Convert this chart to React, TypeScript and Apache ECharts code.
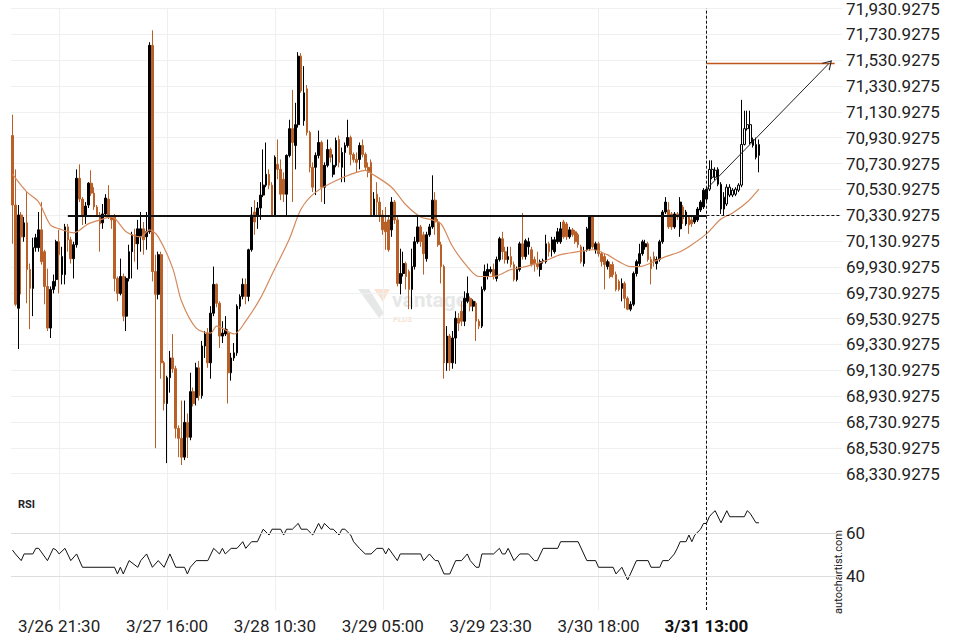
import React, { useEffect, useRef } from "react";
import * as echarts from "echarts";

// ---- time axis ----
const START_DAY = 26; // 3/26
const START_MINUTES = 13 * 60 + 30; // 13:30
const STEP_MINUTES = 30;
const CATEGORY_COUNT = 285;
const tickIndices = [16, 53, 90, 127, 164, 201, 238];
const tickLabels = ["3/26 21:30", "3/27 16:00", "3/28 10:30", "3/29 05:00", "3/29 23:30", "3/30 18:00", "3/31 13:00"];
const BOLD_TICK = "3/31 13:00";

// ---- price axis ----
const PRICE_MIN = 68330.9275;
const PRICE_MAX = 71930.9275;
const PRICE_STEP = 200;
const SUPPORT_LEVEL = 70330.9275;
const TARGET_LEVEL = 71505;
const ARROW_START = 70533;
const PATTERN_INDEX = 238;
const HOLLOW_FROM = 239;

// ---- candles: [open, close, low, high] ----
const ohlc: [number, number, number, number][] = [
  [70948, 70410, 70110, 71109], [70410, 69642, 69627, 70686], [69611, 70333, 69296, 70410], [70333, 70164, 69719, 70356],
  [70164, 70272, 70126, 70318], [70272, 69911, 69650, 70510], [69911, 69765, 69450, 69957], [69765, 70080, 69550, 70157],
  [70080, 70157, 70049, 70187], [70080, 70218, 70049, 70356], [70218, 69972, 69949, 70433], [70049, 69780, 69642, 70064],
  [69780, 69458, 69435, 69918], [69458, 69757, 69381, 69780], [69757, 69819, 69726, 69872], [69834, 70126, 69780, 70141],
  [70126, 70026, 69726, 70218], [69872, 70011, 69796, 70087], [69872, 70241, 69796, 70264], [70241, 70141, 70049, 70264],
  [70141, 69995, 69957, 70164], [69995, 70103, 69842, 70126], [70103, 70617, 70080, 70686], [70617, 70456, 70433, 70725],
  [70456, 70333, 70256, 70471], [70333, 70402, 70264, 70433], [70410, 70579, 70387, 70587], [70579, 70502, 70479, 70679],
  [70502, 70395, 70372, 70548], [70395, 70333, 70318, 70410], [70333, 70264, 70049, 70356], [70272, 70341, 70226, 70418],
  [70341, 70464, 70326, 70494], [70456, 70318, 70302, 70564], [70318, 70295, 70226, 70333], [70318, 69842, 69742, 70341],
  [69842, 69726, 69665, 69857], [69726, 69857, 69711, 69995], [69857, 69550, 69511, 69880], [69550, 69842, 69435, 69857],
  [69842, 70049, 69819, 70103], [70049, 70180, 69842, 70203], [70180, 70110, 69972, 70226], [70110, 70226, 69911, 70295],
  [70164, 70226, 70049, 70356], [70226, 70141, 70026, 70279], [70164, 70203, 70064, 70356], [70203, 71646, 70187, 71670],
  [71646, 69895, 69819, 71762], [69895, 69719, 68528, 70026], [69719, 70026, 69680, 70049], [70026, 69189, 69066, 70049],
  [69189, 68874, 68820, 69204], [68874, 69074, 68413, 69089], [69074, 69227, 68958, 69281], [69227, 69143, 69112, 69412],
  [69143, 68682, 68605, 69166], [68682, 68605, 68459, 68705], [68605, 68459, 68398, 68897], [68459, 68728, 68436, 68897],
  [68728, 68613, 68452, 68797], [68613, 68966, 68590, 69112], [68966, 68874, 68851, 68997], [68920, 69150, 68859, 69189],
  [69150, 68935, 68897, 69204], [68935, 69319, 68912, 69358], [69319, 69412, 69227, 69435], [69419, 69189, 69150, 69458],
  [69189, 69573, 69066, 69627], [69573, 69796, 69550, 69934], [69796, 69650, 69619, 69803], [69650, 69396, 69304, 69665],
  [69396, 69419, 69342, 69511], [69412, 69450, 69396, 69550], [69419, 69112, 68874, 69450], [69112, 69227, 69051, 69266],
  [69227, 69266, 69204, 69342], [69266, 69627, 69243, 69642], [69627, 69703, 69604, 69719], [69703, 69796, 69680, 69842],
  [69796, 69703, 69642, 69842], [69703, 70064, 69665, 70072], [70064, 70333, 70049, 70395], [70356, 70279, 70180, 70448],
  [70333, 70387, 70226, 70433], [70387, 70487, 70295, 70587], [70487, 70564, 70471, 70840], [70564, 70648, 70548, 70894],
  [70648, 70564, 70533, 70686], [70564, 70333, 70330, 70587], [70333, 70779, 70326, 70794], [70725, 70686, 70610, 70917],
  [70686, 70494, 70448, 70763], [70610, 70494, 70433, 70663], [70494, 70794, 70333, 70802], [70794, 71001, 70779, 71070],
  [71001, 70894, 70433, 71301], [70871, 71032, 70686, 71201], [71032, 71562, 71009, 71593], [71562, 71293, 71278, 71585],
  [71063, 71278, 71024, 71485], [71309, 70971, 70948, 71339], [70971, 70702, 70663, 70986], [70702, 70548, 70510, 70740],
  [70702, 70794, 70487, 70817], [70794, 70894, 70771, 70986], [70894, 70548, 70433, 70909], [70548, 70717, 70418, 70740],
  [70717, 70840, 70702, 70917], [70840, 70779, 70740, 70855], [70648, 70717, 70625, 70802], [70717, 70909, 70702, 70932],
  [70917, 70740, 70702, 70948], [70702, 70817, 70587, 70855], [70817, 70871, 70587, 70894], [70871, 70932, 70855, 71070],
  [70932, 70802, 70717, 70948], [70802, 70763, 70740, 70817], [70763, 70740, 70663, 70817], [70763, 70871, 70686, 70894],
  [70871, 70802, 70779, 70917], [70802, 70702, 70679, 70817], [70702, 70663, 70625, 70740], [70740, 70333, 70318, 70763],
  [70333, 70456, 70318, 70510], [70494, 70433, 70333, 70587], [70433, 70333, 70279, 70471], [70333, 70218, 70180, 70372],
  [70279, 70203, 70064, 70395], [70295, 70064, 70049, 70318], [70218, 70433, 70164, 70471], [70433, 70295, 70264, 70448],
  [70295, 69803, 69780, 70318], [69803, 69880, 69719, 70072], [69880, 69957, 69857, 70049], [69957, 69857, 69757, 69972],
  [69895, 69757, 69604, 69911], [69757, 69934, 69604, 70072], [69934, 70126, 69911, 70164], [70126, 70241, 70110, 70318],
  [70241, 70126, 70087, 70256], [70180, 70034, 69872, 70203], [69995, 70180, 69972, 70203], [70180, 70241, 70164, 70264],
  [70241, 70448, 70226, 70640], [70448, 70279, 70180, 70510], [70279, 70103, 70087, 70302], [70103, 69934, 69803, 70126],
  [69934, 69189, 69066, 69949], [69189, 69396, 69127, 69473], [69396, 69189, 69127, 69412], [69189, 69381, 69143, 69435],
  [69381, 69534, 69181, 69588], [69534, 69496, 69435, 69573], [69588, 69511, 69473, 69665], [69511, 69688, 69473, 69742],
  [69665, 69726, 69650, 69857], [69688, 69627, 69588, 69703], [69627, 69665, 69588, 69680], [69650, 69511, 69358, 69665],
  [69511, 69473, 69450, 69527], [69473, 69757, 69458, 69780], [69757, 69895, 69742, 69949], [69857, 69911, 69834, 69957],
  [69895, 69911, 69880, 69934], [69911, 69857, 69834, 69957], [69842, 69988, 69819, 70011], [69988, 70149, 69972, 70164],
  [70149, 70049, 69988, 70203], [70049, 69988, 69957, 70087], [69988, 70011, 69957, 70087], [70011, 69949, 69926, 70087],
  [69949, 69834, 69819, 69972], [69834, 69911, 69819, 69934], [69911, 70110, 69895, 70126], [70110, 70011, 69988, 70349],
  [70011, 70134, 69988, 70149], [70087, 70126, 70026, 70157], [70064, 69949, 69934, 70087], [69988, 69957, 69895, 70011],
  [69957, 69934, 69911, 70049], [69911, 69972, 69857, 69988], [69972, 69980, 69957, 69995], [69972, 70110, 69957, 70180],
  [70110, 70049, 70011, 70126], [70064, 70141, 70011, 70164], [70049, 70141, 70034, 70164], [70126, 70203, 70110, 70233],
  [70126, 70226, 70110, 70279], [70279, 70164, 70149, 70295], [70264, 70164, 70141, 70279], [70164, 70218, 70149, 70241],
  [70218, 70180, 70164, 70233], [70203, 70126, 70110, 70218], [70180, 70103, 70080, 70195], [70087, 69972, 69957, 70103],
  [69957, 70049, 69934, 70087], [70064, 70226, 70049, 70241], [70072, 70318, 70057, 70333], [70318, 70087, 70072, 70333],
  [70064, 70110, 70034, 70126], [70110, 70034, 70011, 70126], [70034, 69972, 69934, 70049], [70011, 69949, 69757, 70034],
  [69934, 69972, 69911, 69988], [69949, 69857, 69842, 69972], [69949, 69872, 69849, 69972], [69872, 69757, 69742, 69895],
  [69819, 69757, 69742, 69834], [69765, 69803, 69665, 69842], [69803, 69688, 69611, 69819], [69688, 69604, 69596, 69703],
  [69604, 69642, 69588, 69665], [69642, 69880, 69627, 69895], [69880, 69972, 69857, 69988], [69957, 70034, 69934, 70110],
  [70034, 70126, 70018, 70141], [70087, 70110, 70064, 70141], [70110, 69988, 69972, 70126], [69988, 69918, 69796, 70011],
  [70011, 69972, 69934, 70049], [69957, 69988, 69911, 70011], [69988, 70126, 69972, 70141], [70126, 70356, 70110, 70372],
  [70356, 70433, 70341, 70471], [70372, 70241, 70226, 70433], [70341, 70241, 70218, 70356], [70241, 70341, 70226, 70356],
  [70341, 70318, 70295, 70356], [70226, 70433, 70164, 70471], [70395, 70302, 70264, 70410], [70264, 70356, 70249, 70372],
  [70318, 70256, 70187, 70333], [70295, 70264, 70241, 70318], [70279, 70318, 70264, 70333], [70295, 70379, 70279, 70395],
  [70372, 70433, 70356, 70448], [70395, 70525, 70379, 70541], [70456, 70533, 70441, 70548], [70533, 70686, 70518, 70756],
  [70686, 70625, 70610, 70756], [70625, 70679, 70602, 70702], [70686, 70571, 70556, 70702], [70571, 70379, 70341, 70587],
  [70379, 70471, 70333, 70510], [70418, 70548, 70402, 70571], [70548, 70487, 70471, 70571], [70487, 70525, 70471, 70541],
  [70494, 70533, 70479, 70548], [70525, 70564, 70510, 70579], [70564, 70879, 70548, 71224], [70879, 71001, 70871, 71140],
  [71001, 71032, 70986, 71140], [71032, 70894, 70879, 71140], [70917, 70871, 70855, 70932], [70879, 70779, 70763, 70932],
  [70794, 70879, 70663, 70917],
];

// ---- moving average (index, value) ----
const maPoints: [number, number][] = [
  [0, 70650], [5, 70510], [9, 70433], [13, 70256], [16, 70226], [21, 70195], [26, 70264], [30, 70295], [34, 70318],
  [39, 70203], [44, 70164], [47, 70218], [50, 70164], [55, 69918], [58, 69665], [63, 69458], [68, 69419], [70, 69473],
  [76, 69412], [80, 69511], [85, 69688], [89, 69872], [95, 70149], [99, 70379], [104, 70510], [112, 70610], [118, 70663],
  [121, 70679], [123, 70656], [130, 70548], [135, 70410], [140, 70318], [144, 70295], [147, 70264], [151, 70087],
  [156, 69934], [160, 69857], [165, 69857], [171, 69911], [176, 69934], [182, 69972], [188, 70026], [194, 70049],
  [199, 70064], [204, 70026], [208, 69972], [212, 69934], [215, 69934], [220, 69972], [224, 70011], [229, 70049],
  [233, 70103], [238, 70187], [243, 70302], [247, 70349], [252, 70433], [256, 70533],
];

// ---- RSI (index, value) ----
const rsiPoints: [number, number][] = [
  [0, 52.2], [1, 50.4], [3, 47.3], [4, 50.4], [7, 50.4], [8, 53.0], [9, 53.0], [12, 47.3], [14, 53.0], [15, 52.2],
  [16, 50.4], [18, 53.0], [20, 47.3], [22, 50.4], [24, 44.2], [35, 44.2], [36, 41.1], [37, 44.2], [38, 41.1], [40, 47.3],
  [43, 44.2], [44, 47.3], [46, 50.4], [47, 47.3], [48, 44.2], [50, 47.3], [52, 44.2], [54, 50.4], [56, 44.2], [59, 44.2],
  [60, 41.1], [61, 44.2], [63, 47.3], [67, 47.3], [69, 53.0], [71, 50.4], [72, 53.0], [73, 50.4], [75, 53.0], [77, 53.0],
  [79, 56.1], [80, 53.0], [82, 56.1], [84, 56.1], [86, 61.9], [88, 59.2], [89, 61.9], [92, 61.9], [93, 59.2], [94, 61.9],
  [96, 61.9], [98, 64.6], [99, 61.9], [101, 61.9], [103, 59.2], [105, 64.6], [106, 61.9], [107, 64.6], [109, 61.9],
  [110, 61.9], [112, 59.2], [113, 61.9], [114, 61.9], [116, 59.2], [117, 56.1], [119, 53.0], [121, 50.4], [123, 50.4],
  [125, 53.0], [127, 53.0], [128, 50.4], [129, 53.0], [132, 47.3], [133, 50.4], [140, 50.4], [141, 47.3], [143, 50.4],
  [145, 47.3], [146, 47.3], [148, 41.1], [150, 41.1], [152, 47.3], [154, 47.3], [156, 50.4], [157, 47.3], [159, 44.2],
  [160, 44.2], [161, 50.4], [165, 50.4], [167, 53.0], [168, 50.4], [169, 50.4], [170, 53.0], [172, 47.3], [174, 50.4],
  [177, 50.4], [179, 47.3], [180, 47.3], [182, 53.0], [187, 53.0], [188, 56.1], [194, 56.1], [197, 47.3], [200, 47.3],
  [201, 44.2], [206, 44.2], [207, 41.1], [209, 44.2], [211, 38.3], [214, 47.3], [218, 47.3], [219, 44.2], [222, 44.2],
  [223, 47.3], [225, 47.3], [227, 50.4], [228, 53.0], [229, 56.1], [231, 56.1], [232, 59.2], [233, 56.1], [234, 59.2],
  [236, 61.9], [237, 64.6], [238, 64.6], [239, 67.7], [240, 69.3], [241, 70.5], [243, 64.9], [245, 70.5], [246, 67.7],
  [251, 67.7], [252, 70.5], [253, 69.3], [255, 64.9], [256, 64.9],
];
const rsiLevels = [60, 40];

const UP = "#000000";
const DOWN = "#b86028";
const FONT = "Roboto, 'Noto Sans', sans-serif";

function buildCategories(): string[] {
  const out: string[] = [];
  for (let i = 0; i < CATEGORY_COUNT; i++) {
    const total = START_MINUTES + i * STEP_MINUTES;
    let day = START_DAY + Math.floor(total / 1440);
    let month = 3;
    if (day > 31) {
      day -= 31;
      month = 4;
    }
    const mins = total % 1440;
    const hh = String(Math.floor(mins / 60)).padStart(2, "0");
    const mm = String(mins % 60).padStart(2, "0");
    out.push(`${month}/${day} ${hh}:${mm}`);
  }
  return out;
}

function fmtPrice(v: number): string {
  // snap to the exact tick (echarts rounds tick values)
  const k = Math.round((v - PRICE_MIN) / PRICE_STEP);
  const exact = PRICE_MIN + k * PRICE_STEP;
  const s = exact.toFixed(4);
  const [ip, dp] = s.split(".");
  return ip.replace(/\B(?=(\d{3})+(?!\d))/g, ",") + "." + dp;
}

const CHEVRON = "path://M5,0 L10,10 L8.8,10 L5,2.4 L1.2,10 L0,10 Z";

export default function App() {
  const ref = useRef<HTMLDivElement>(null);

  useEffect(() => {
    if (!ref.current) return;
    const chart = echarts.init(ref.current, undefined, { renderer: "svg" });
    const categories = buildCategories();
    const isTick = (index: number) => tickIndices.indexOf(index) >= 0;

    const candleData = ohlc.map((c, i) =>
      i >= HOLLOW_FROM
        ? { value: c, itemStyle: { color: "#ffffff", color0: "#ffffff", borderColor: UP, borderColor0: DOWN } }
        : { value: c }
    );

    const dashed = { color: "#111", width: 1, type: [3, 2] as any };

    const option: any = {
      animation: false,
      backgroundColor: "#ffffff",
      textStyle: { fontFamily: FONT },
      grid: [
        { left: 11, top: 5, width: 831, height: 468.7 },
        { left: 11, top: 474, width: 831, height: 136 },
      ],
      xAxis: [
        {
          type: "category",
          gridIndex: 0,
          data: categories,
          boundaryGap: true,
          axisLine: { show: false },
          axisTick: { show: false, alignWithLabel: true },
          axisLabel: { show: false, interval: (i: number) => isTick(i) },
          splitLine: { show: true, alignWithLabel: true, interval: (i: number) => isTick(i), lineStyle: { color: "#efefef", width: 1 } },
        },
        {
          type: "category",
          gridIndex: 1,
          data: categories,
          boundaryGap: true,
          axisLine: { show: false },
          axisTick: { show: false, alignWithLabel: true },
          axisLabel: {
            show: true,
            interval: (i: number) => isTick(i),
            color: "#222",
            fontSize: 17,
            fontFamily: FONT,
            margin: 7,
            formatter: (_v: string, i: number) => {
              const k = tickIndices.indexOf(i);
              if (k < 0) return "";
              const t = tickLabels[k];
              return t === BOLD_TICK ? `{b|${t}}` : t;
            },
            rich: { b: { fontWeight: "bold", fontSize: 17, fontFamily: FONT, color: "#111" } },
          },
          splitLine: { show: true, alignWithLabel: true, interval: (i: number) => isTick(i), lineStyle: { color: "#efefef", width: 1 } },
        },
      ],
      yAxis: [
        {
          type: "value",
          gridIndex: 0,
          position: "right",
          min: PRICE_MIN,
          max: PRICE_MAX,
          interval: PRICE_STEP,
          axisLine: { show: false },
          axisTick: { show: false },
          splitLine: { show: true, lineStyle: { color: "#f0f0f0", width: 1 } },
          axisLabel: { color: "#222", fontSize: 17, fontFamily: FONT, margin: 4, padding: [5, 0, 0, 0], formatter: fmtPrice },
        },
        {
          type: "value",
          gridIndex: 1,
          position: "right",
          min: 24.33,
          max: 87.58,
          show: false,
          splitLine: { show: false },
        },
      ],
      series: [
        {
          type: "candlestick",
          xAxisIndex: 0,
          yAxisIndex: 0,
          data: candleData,
          barWidth: 2.2,
          itemStyle: { color: UP, color0: DOWN, borderColor: UP, borderColor0: DOWN, borderWidth: 1 },
          z: 3,
          markLine: {
            silent: true,
            symbol: ["none", "none"],
            label: { show: false },
            data: [
              [
                { coord: [19, SUPPORT_LEVEL], lineStyle: { color: "#111", width: 2.2, type: "solid" } },
                { coord: [PATTERN_INDEX, SUPPORT_LEVEL] },
              ],
              [
                { coord: [PATTERN_INDEX, SUPPORT_LEVEL], lineStyle: dashed },
                { coord: [CATEGORY_COUNT - 1, SUPPORT_LEVEL] },
              ],
              { xAxis: PATTERN_INDEX, lineStyle: dashed },
              [
                { coord: [PATTERN_INDEX, TARGET_LEVEL], lineStyle: { color: "#c0561b", width: 1.4, type: "solid" } },
                { coord: [282, TARGET_LEVEL] },
              ],
              [
                { coord: [PATTERN_INDEX, ARROW_START], lineStyle: { color: "#222", width: 1, type: "solid" } },
                { coord: [280, TARGET_LEVEL], symbol: CHEVRON, symbolSize: [11, 9] },
              ],
            ],
          },
        },
        {
          type: "line",
          name: "MA",
          xAxisIndex: 0,
          yAxisIndex: 0,
          data: maPoints,
          showSymbol: false,
          smooth: 0.3,
          lineStyle: { color: "#d48a5c", width: 1.2 },
          z: 4,
          silent: true,
        },
        {
          type: "line",
          name: "RSI",
          xAxisIndex: 1,
          yAxisIndex: 1,
          data: rsiPoints,
          showSymbol: false,
          lineStyle: { color: "#111", width: 1 },
          silent: true,
          markLine: {
            silent: true,
            symbol: ["none", "none"],
            data: [
              ...rsiLevels.map((v) => ({
                yAxis: v,
                lineStyle: { color: "#dddddd", width: 1, type: "solid" },
                label: { show: true, position: "end", formatter: String(v), color: "#222", fontSize: 17, fontFamily: FONT, distance: 4 },
              })),
              { xAxis: PATTERN_INDEX, lineStyle: dashed, label: { show: false } },
            ],
          },
        },
      ],
      graphic: [
        {
          type: "group",
          z: 0,
          silent: true,
          children: [
            { type: "polygon", shape: { points: [[358, 289], [369, 289], [384, 313], [379, 318]] }, style: { fill: "#e6e8e8" } },
            { type: "polygon", shape: { points: [[374, 289], [390, 289], [383, 302]] }, style: { fill: "#f8e3d4" } },
            { type: "text", x: 392, y: 300, style: { text: "vantage", fill: "#e6e8e8", font: "bold 21px " + FONT, verticalAlign: "middle" } },
            { type: "text", x: 393, y: 319, style: { text: "PLUS", fill: "#f8e3d4", font: "bold italic 8px " + FONT, verticalAlign: "middle" } },
          ],
        },
        { type: "text", x: 18, y: 504, silent: true, style: { text: "RSI", fill: "#222", font: "bold 11px " + FONT, verticalAlign: "middle" } },
        {
          type: "text",
          x: 838,
          y: 572,
          rotation: Math.PI / 2,
          silent: true,
          style: { text: "autochartist.com", fill: "#222", font: "11px " + FONT, align: "center", verticalAlign: "middle" },
        },
      ],
    };

    chart.setOption(option);
    return () => chart.dispose();
  }, []);

  return (
    <div
      ref={ref}
      style={{ position: "fixed", left: 0, top: 0, width: 960, height: 640, background: "#fff" }}
    />
  );
}
